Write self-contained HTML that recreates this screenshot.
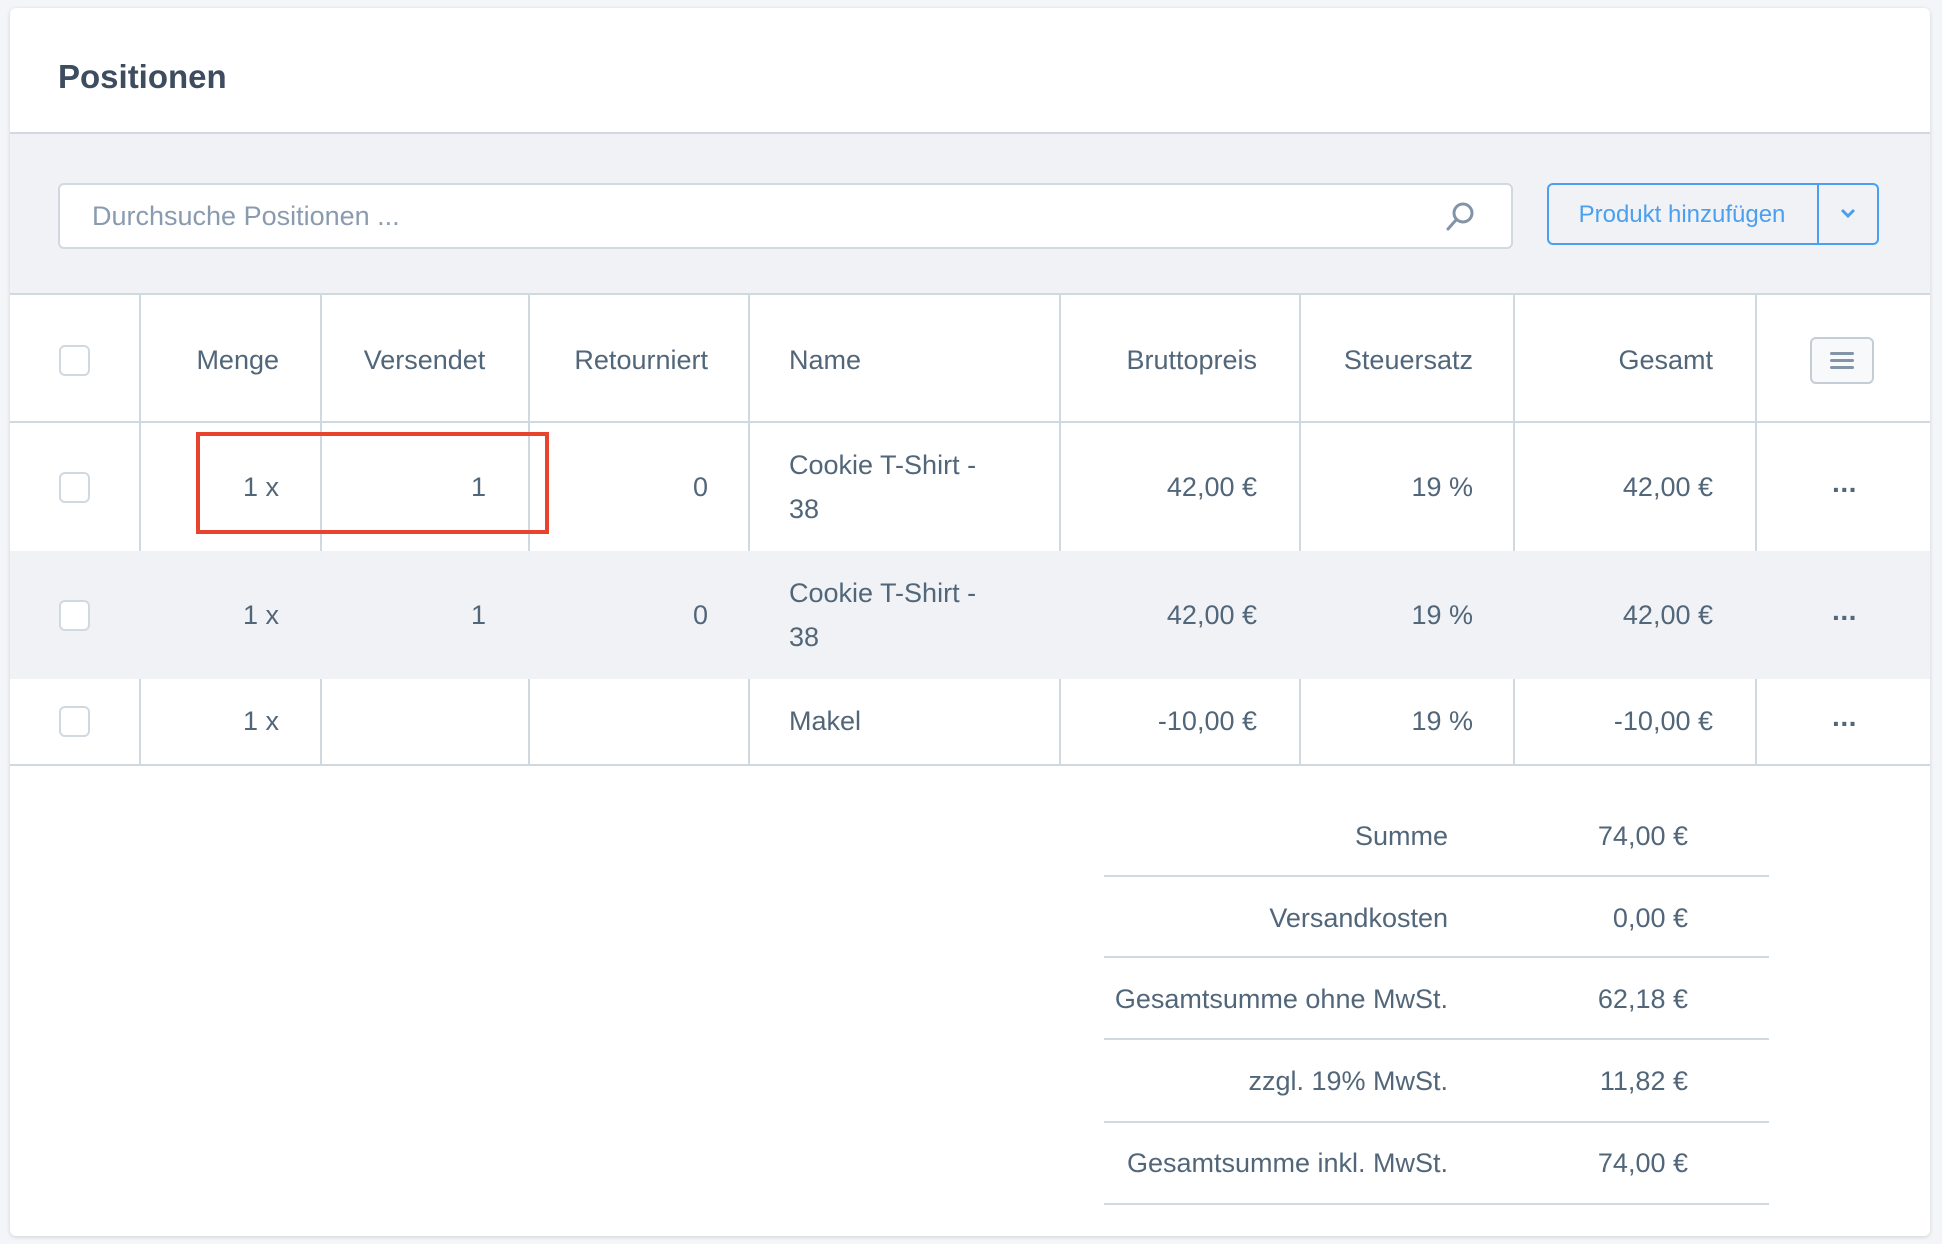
<!DOCTYPE html><html><head><meta charset="utf-8"><style>
*{margin:0;padding:0;box-sizing:border-box}
body{width:1942px;height:1244px;background:#f4f5f8;font-family:"Liberation Sans",Arial,sans-serif;color:#52667a;position:relative;overflow:hidden}
.card{position:absolute;left:10px;top:8px;width:1920px;height:1228px;background:#fff;border-radius:6px;box-shadow:0 1px 4px rgba(0,0,0,.15);overflow:hidden}
.a{position:absolute;white-space:nowrap}
.t{font-size:27px;line-height:27px}
.r{text-align:right}
.vl{position:absolute;width:2px;background:#d1d9e0}
.hl{position:absolute;height:2px;background:#d1d9e0}
.cb{position:absolute;width:31px;height:31px;border:2px solid #d1d9e0;border-radius:6px;background:#fff}
.dots{position:absolute;font-size:28px;font-weight:bold;letter-spacing:-1px;color:#52667a}
</style></head><body>
<div class="card">
<div class="a" style="left:48px;top:50px;font-size:33px;font-weight:bold;color:#3d4c5e">Positionen</div>
<div class="a" style="left:0;top:124px;width:1920px;height:163px;background:#f0f2f5;border-top:2px solid #d1d9e0;border-bottom:2px solid #d1d9e0"></div>
<div class="a" style="left:48px;top:175px;width:1455px;height:66px;background:#fff;border:2px solid #d1d9e0;border-radius:6px"></div>
<div class="a t" style="left:82px;top:195px;color:#8a9bb0">Durchsuche Positionen ...</div>
<svg class="a" style="left:1433px;top:192px" width="34" height="34" viewBox="0 0 34 34"><circle cx="20" cy="13" r="9" fill="none" stroke="#8394a8" stroke-width="3"/><line x1="13" y1="20" x2="5" y2="29" stroke="#8394a8" stroke-width="3" stroke-linecap="round"/></svg>
<div class="a" style="left:1537px;top:175px;width:332px;height:62px;border:2px solid #4a9ff0;border-radius:6px"></div>
<div class="a" style="left:1807px;top:175px;width:2px;height:62px;background:#4a9ff0"></div>
<div class="a" style="left:1537px;top:193px;width:270px;text-align:center;font-size:24px;color:#4a9ff0">Produkt hinzufügen</div>
<svg class="a" style="left:1830px;top:199px" width="16" height="12"><polyline points="2,3 8,9 14,3" fill="none" stroke="#4a9ff0" stroke-width="3"/></svg>

<div class="vl" style="left:129px;top:287px;height:469px"></div>
<div class="vl" style="left:310px;top:287px;height:469px"></div>
<div class="vl" style="left:518px;top:287px;height:469px"></div>
<div class="vl" style="left:738px;top:287px;height:469px"></div>
<div class="vl" style="left:1049px;top:287px;height:469px"></div>
<div class="vl" style="left:1289px;top:287px;height:469px"></div>
<div class="vl" style="left:1503px;top:287px;height:469px"></div>
<div class="vl" style="left:1745px;top:287px;height:469px"></div>
<div class="hl" style="left:0;top:413px;width:1920px"></div>
<div class="a" style="left:0;top:543px;width:1920px;height:128px;background:#f0f2f5"></div>
<div class="hl" style="left:0;top:756px;width:1920px"></div>

<div class="cb" style="left:49px;top:337px"></div>
<div class="a t r" style="left:130px;width:139px;top:339px">Menge</div>
<div class="a t" style="left:311px;width:207px;top:339px;text-align:center">Versendet</div>
<div class="a t r" style="left:519px;width:179px;top:339px">Retourniert</div>
<div class="a t" style="left:779px;top:339px">Name</div>
<div class="a t r" style="left:1050px;width:197px;top:339px">Bruttopreis</div>
<div class="a t r" style="left:1290px;width:173px;top:339px">Steuersatz</div>
<div class="a t r" style="left:1504px;width:199px;top:339px">Gesamt</div>
<div class="a" style="left:1800px;top:329px;width:64px;height:47px;border:2px solid #c4ccd6;border-radius:6px;background:#f8f9fb"></div>
<div class="a" style="left:1820px;top:344px;width:24px;height:3px;background:#8394a8;border-radius:2px"></div>
<div class="a" style="left:1820px;top:351px;width:24px;height:3px;background:#8394a8;border-radius:2px"></div>
<div class="a" style="left:1820px;top:358px;width:24px;height:3px;background:#8394a8;border-radius:2px"></div>

<!-- row1 -->
<div class="cb" style="left:49px;top:464px"></div>
<div class="a t r" style="left:130px;width:139px;top:466px">1 x</div>
<div class="a t r" style="left:311px;width:165px;top:466px">1</div>
<div class="a t r" style="left:519px;width:179px;top:466px">0</div>
<div class="a t" style="left:779px;top:444px">Cookie T-Shirt -</div>
<div class="a t" style="left:779px;top:488px">38</div>
<div class="a t r" style="left:1050px;width:197px;top:466px">42,00 €</div>
<div class="a t r" style="left:1290px;width:173px;top:466px">19 %</div>
<div class="a t r" style="left:1504px;width:199px;top:466px">42,00 €</div>
<div class="dots" style="left:1822px;top:466px">···</div>
<!-- row2 -->
<div class="cb" style="left:49px;top:592px"></div>
<div class="a t r" style="left:130px;width:139px;top:594px">1 x</div>
<div class="a t r" style="left:311px;width:165px;top:594px">1</div>
<div class="a t r" style="left:519px;width:179px;top:594px">0</div>
<div class="a t" style="left:779px;top:572px">Cookie T-Shirt -</div>
<div class="a t" style="left:779px;top:616px">38</div>
<div class="a t r" style="left:1050px;width:197px;top:594px">42,00 €</div>
<div class="a t r" style="left:1290px;width:173px;top:594px">19 %</div>
<div class="a t r" style="left:1504px;width:199px;top:594px">42,00 €</div>
<div class="dots" style="left:1822px;top:594px">···</div>
<!-- row3 -->
<div class="cb" style="left:49px;top:698px"></div>
<div class="a t r" style="left:130px;width:139px;top:700px">1 x</div>
<div class="a t" style="left:779px;top:700px">Makel</div>
<div class="a t r" style="left:1050px;width:197px;top:700px">-10,00 €</div>
<div class="a t r" style="left:1290px;width:173px;top:700px">19 %</div>
<div class="a t r" style="left:1504px;width:199px;top:700px">-10,00 €</div>
<div class="dots" style="left:1822px;top:700px">···</div>

<div class="a" style="left:186px;top:424px;width:353px;height:102px;border:4px solid #e8432f"></div>

<!-- summary -->
<div class="a t r" style="left:1000px;width:438px;top:815px">Summe</div>
<div class="a t r" style="left:1450px;width:228px;top:815px">74,00 €</div>
<div class="hl" style="left:1094px;top:867px;width:665px"></div>
<div class="a t r" style="left:1000px;width:438px;top:897px">Versandkosten</div>
<div class="a t r" style="left:1450px;width:228px;top:897px">0,00 €</div>
<div class="hl" style="left:1094px;top:948px;width:665px"></div>
<div class="a t r" style="left:1000px;width:438px;top:978px">Gesamtsumme ohne MwSt.</div>
<div class="a t r" style="left:1450px;width:228px;top:978px">62,18 €</div>
<div class="hl" style="left:1094px;top:1030px;width:665px"></div>
<div class="a t r" style="left:1000px;width:438px;top:1060px">zzgl. 19% MwSt.</div>
<div class="a t r" style="left:1450px;width:228px;top:1060px">11,82 €</div>
<div class="hl" style="left:1094px;top:1113px;width:665px"></div>
<div class="a t r" style="left:1000px;width:438px;top:1142px">Gesamtsumme inkl. MwSt.</div>
<div class="a t r" style="left:1450px;width:228px;top:1142px">74,00 €</div>
<div class="hl" style="left:1094px;top:1195px;width:665px"></div>
</div>
</body></html>
